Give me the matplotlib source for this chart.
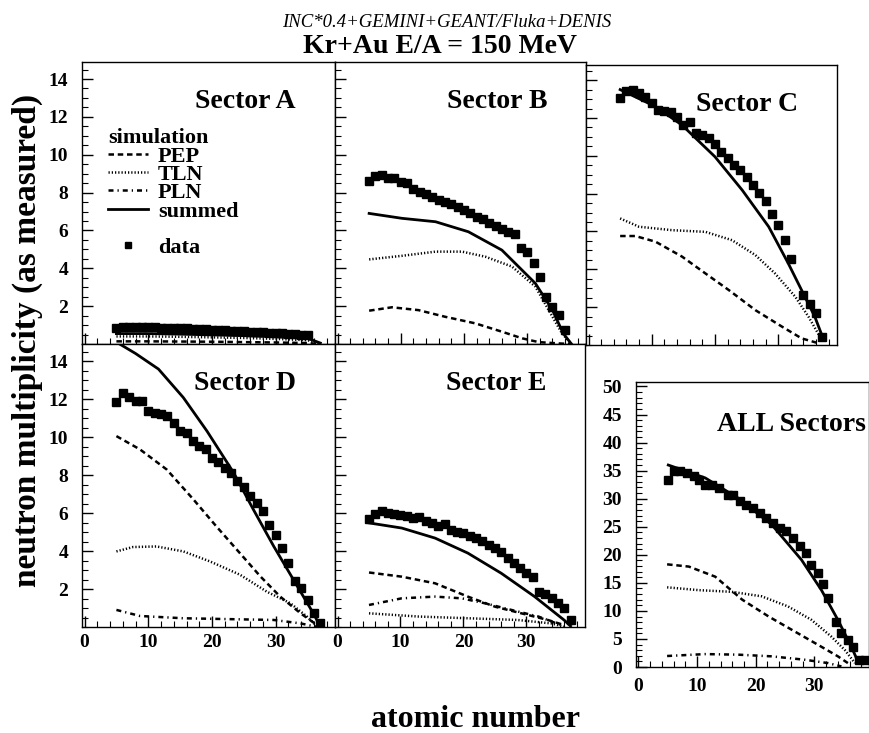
import numpy as np
import matplotlib.pyplot as plt
from matplotlib.ticker import MultipleLocator
from matplotlib.lines import Line2D

plt.rcParams['font.family'] = ['Liberation Serif', 'DejaVu Serif']
plt.rcParams['font.weight'] = 'bold'

# ---- data (atomic number Z, neutron multiplicity) ----
# Sector A
z_data_A = list(range(5, 36))
data_A = [0.85, 0.9, 0.92, 0.92, 0.9, 0.9, 0.88, 0.87, 0.85, 0.85, 0.83, 0.82, 0.8, 0.78,
          0.77, 0.75, 0.73, 0.72, 0.7, 0.68, 0.67, 0.65, 0.63, 0.62, 0.6, 0.58, 0.56, 0.54,
          0.52, 0.5, 0.45]
z_sum_A = [5, 10, 15, 20, 25, 30, 35, 37]
sum_A = [0.55, 0.55, 0.52, 0.48, 0.44, 0.38, 0.3, 0.05]
z_tln_A = [5, 10, 15, 20, 25, 30, 35, 37]
tln_A = [0.4, 0.4, 0.38, 0.35, 0.32, 0.27, 0.2, 0.03]
z_pep_A = [5, 10, 15, 20, 25, 30, 35, 37]
pep_A = [0.14, 0.14, 0.13, 0.12, 0.1, 0.08, 0.05, 0.0]

# Sector B
z_data_B = list(range(5, 37))
data_B = [8.63, 8.88, 8.93, 8.79, 8.75, 8.58, 8.49, 8.17, 8.05, 7.92, 7.78, 7.61, 7.52, 7.40,
          7.25, 7.08, 6.90, 6.73, 6.58, 6.41, 6.23, 6.05, 5.93, 5.79, 5.05, 4.88, 4.26, 3.56,
          2.50, 1.97, 1.53, 0.74]
z_sum_B = [5, 10.2, 15.5, 20.7, 26, 31.3, 34, 35.7, 37]
sum_B = [6.90, 6.64, 6.46, 5.93, 4.96, 3.20, 1.79, 0.56, 0.0]
z_tln_B = [5, 10.2, 15.5, 19.7, 23.4, 27.6, 31.3, 33.4, 35.5, 37]
tln_B = [4.47, 4.66, 4.88, 4.88, 4.61, 4.09, 3.03, 1.79, 0.56, 0.0]
z_pep_B = [5, 8.6, 12.8, 17, 21.8, 26, 29.2, 31.8, 35, 37]
pep_B = [1.76, 1.94, 1.79, 1.44, 1.09, 0.65, 0.30, 0.1, 0.03, 0.0]

# Sector C
z_data_C = list(range(5, 33)) + [34, 35, 36, 37]
data_C = [13.03, 13.4, 13.5, 13.3, 13.12, 12.8, 12.41, 12.38, 12.33, 12.06, 11.62, 11.8, 11.2,
          11.09, 10.92, 10.6, 10.21, 9.86, 9.51, 9.24, 8.89, 8.45, 8.04, 7.62, 6.92, 6.34,
          5.55, 4.52, 2.64, 2.17, 1.68, 0.44]
z_sum_C = [5, 10.6, 14.8, 20, 24.3, 28.5, 31.6, 33.7, 35.8, 37.2]
sum_C = [13.5, 12.6, 11.62, 9.95, 8.19, 6.25, 4.31, 2.90, 1.49, 0.26]
z_tln_C = [5, 8, 13.2, 18.5, 22.7, 26.4, 29.5, 32.7, 34.8, 36.9]
tln_C = [6.69, 6.25, 6.07, 5.98, 5.54, 4.75, 3.78, 2.55, 1.49, 0.26]
z_pep_C = [5, 7.4, 10.6, 14.8, 18.5, 22.2, 26.4, 30.6, 33.7, 36.4]
pep_C = [5.76, 5.76, 5.46, 4.67, 3.78, 2.90, 1.84, 0.97, 0.35, 0.09]

# Sector D
z_data_D = list(range(5, 38))
data_D = [11.82, 12.31, 12.13, 11.9, 11.9, 11.38, 11.25, 11.2, 11.11, 10.72, 10.32, 10.23,
          9.79, 9.52, 9.38, 8.91, 8.68, 8.38, 8.12, 7.68, 7.38, 6.88, 6.53, 6.09, 5.39, 4.86,
          4.15, 3.37, 2.4, 2.04, 1.43, 0.72, 0.19]
z_sum_D = [5, 8, 11.6, 15.5, 19.2, 23.4, 26.5, 29.7, 32.8, 35.9, 37]
sum_D = [15.0, 14.4, 13.58, 12.08, 10.32, 8.12, 6.18, 4.24, 2.48, 0.72, 0.02]
z_tln_D = [5, 7.6, 11.3, 15.5, 19.7, 24.4, 28.6, 32.3, 34.9, 36.5]
tln_D = [3.98, 4.21, 4.24, 3.98, 3.45, 2.75, 1.86, 1.25, 0.55, 0.02]
z_pep_D = [5, 8.7, 12.9, 17.1, 20.7, 24.4, 27.6, 30.7, 33.9, 36.5]
pep_D = [10.05, 9.35, 8.29, 6.71, 5.29, 3.88, 2.66, 1.60, 0.72, 0.1]
z_pln_D = [5, 8.7, 15.5, 23.4, 29.7, 33.9, 36.5]
pln_D = [0.9, 0.58, 0.46, 0.41, 0.37, 0.19, 0.0]

# Sector E
z_data_E = list(range(5, 38))
data_E = [5.69, 5.97, 6.1, 6.0, 5.97, 5.92, 5.83, 5.74, 5.79, 5.57, 5.48, 5.33, 5.44, 5.13,
          4.98, 4.95, 4.77, 4.68, 4.51, 4.33, 4.16, 3.93, 3.63, 3.36, 3.1, 2.83, 2.65, 1.86,
          1.74, 1.51, 1.25, 0.98, 0.36]
z_sum_E = [5, 10.2, 15.5, 20.7, 26, 31.3, 36, 37]
sum_E = [5.48, 5.21, 4.68, 3.89, 2.83, 1.6, 0.36, 0.05]
z_tln_E = [5, 12.9, 20.7, 28.6, 33.9, 36]
tln_E = [0.72, 0.55, 0.46, 0.37, 0.19, 0.02]
z_pep_E = [5, 10.2, 15.5, 20.7, 25, 29.2, 33.4, 36]
pep_E = [2.87, 2.65, 2.30, 1.60, 1.07, 0.72, 0.37, 0.1]
z_pln_E = [5, 10.2, 15.5, 19.7, 23.4, 27.6, 31.9, 35.5]
pln_E = [1.16, 1.51, 1.6, 1.51, 1.25, 0.9, 0.55, 0.1]

# ALL sectors
z_data_ALL = [5.1, 6, 7.1, 8.3, 9.4, 10.3, 11.4, 12.5, 13.7, 15.3, 16.2, 17.3, 18.4, 19.6, 20.7,
              21.8, 23, 24.1, 25.2, 26.4, 27.5, 28.6, 29.5, 30.6, 31.5, 32.3, 33.7, 34.6, 35.7,
              36.5, 37.6, 38.7]
data_ALL = [33.4, 34.9, 34.9, 34.6, 34.0, 33.4, 32.5, 32.5, 31.9, 30.7, 30.7, 29.5, 28.9, 28.3,
            27.4, 26.5, 25.7, 24.8, 24.2, 23.0, 21.5, 20.3, 18.2, 16.7, 14.8, 12.3, 8.1, 6.0,
            4.8, 3.6, 1.3, 1.3]
z_sum_ALL = [5.1, 11.4, 17, 22.7, 27.8, 31.2, 34, 36.3, 37.4]
sum_ALL = [36.0, 33.7, 30.1, 25.4, 19.1, 13.7, 8.4, 3.6, 1.0]
z_tln_ALL = [4.9, 10.3, 15.9, 21, 25.5, 29.5, 32.9, 35.2, 36.9]
tln_ALL = [14.2, 13.7, 13.4, 12.6, 10.8, 8.4, 5.4, 3.0, 0.7]
z_pep_ALL = [4.9, 8.6, 13.1, 17.7, 22.2, 26.7, 31.2, 34, 35.7]
pep_ALL = [18.3, 17.9, 16.1, 12.0, 9.0, 6.3, 3.6, 1.9, 0.7]
z_pln_ALL = [4.9, 11.4, 17, 22.7, 28.3, 32.3, 34.6]
pln_ALL = [1.96, 2.3, 2.2, 1.9, 1.3, 0.7, 0.1]

styles = {
    'PEP': dict(color='k', lw=1.8, ls=(0, (2.2, 1.5))),
    'TLN': dict(color='k', lw=1.8, ls=(0, (0.5, 0.8))),
    'PLN': dict(color='k', lw=1.8, ls=(0, (2.0, 1.6, 0.5, 1.6))),
    'summed': dict(color='k', lw=2.0, ls='-'),
}

W, H = 870, 733
fig = plt.figure(figsize=(W / 100, H / 100), dpi=100)


def px_axes(x0, y0, x1, y1):
    return fig.add_axes([x0 / W, 1 - y1 / H, (x1 - x0) / W, (y1 - y0) / H])


def panel(ax, name, zd, vd, curves, ymax, ylab, xlab, tx=0.845, ty=0.86):
    for key, z, v in curves:
        ax.plot(z, v, **styles[key])
    ax.plot(zd, vd, ls='none', marker='s', ms=6, color='k')
    ax.set_xlim(-0.4, 39.3)
    ax.set_ylim(0, ymax)
    ax.xaxis.set_major_locator(MultipleLocator(10))
    ax.xaxis.set_minor_locator(MultipleLocator(2))
    ax.tick_params(which='both', direction='in', top=False, right=False, labelsize=14)
    ax.tick_params(which='major', length=8, width=1)
    ax.tick_params(which='minor', length=4, width=0.8)
    ax.tick_params(axis='y', pad=10)
    ax.tick_params(axis='x', pad=5)
    ax.tick_params(labelleft=ylab, labelbottom=xlab)
    for s in ax.spines.values():
        s.set_linewidth(1.0)
    ax.text(tx, ty, name, transform=ax.transAxes, ha='right', va='center',
            fontsize=20, fontweight='bold')


def set_sector_y(ax):
    ax.set_yticks([2, 4, 6, 8, 10, 12, 14])
    ax.yaxis.set_minor_locator(MultipleLocator(0.5))


axA = px_axes(82, 62, 335, 344)
panel(axA, 'Sector A', z_data_A, data_A,
      [('PEP', z_pep_A, pep_A), ('TLN', z_tln_A, tln_A), ('summed', z_sum_A, sum_A)],
      14.9, True, False)
axB = px_axes(335, 62, 586, 344)
panel(axB, 'Sector B', z_data_B, data_B,
      [('PEP', z_pep_B, pep_B), ('TLN', z_tln_B, tln_B), ('summed', z_sum_B, sum_B)],
      14.9, False, False)
axC = px_axes(586, 65, 837, 345)
panel(axC, 'Sector C', z_data_C, data_C,
      [('PEP', z_pep_C, pep_C), ('TLN', z_tln_C, tln_C), ('summed', z_sum_C, sum_C)],
      14.8, False, False)
axD = px_axes(82, 344, 335, 627)
panel(axD, 'Sector D', z_data_D, data_D,
      [('PEP', z_pep_D, pep_D), ('TLN', z_tln_D, tln_D), ('PLN', z_pln_D, pln_D),
       ('summed', z_sum_D, sum_D)],
      14.9, True, True)
axE = px_axes(335, 344, 585, 627)
panel(axE, 'Sector E', z_data_E, data_E,
      [('PEP', z_pep_E, pep_E), ('TLN', z_tln_E, tln_E), ('PLN', z_pln_E, pln_E),
       ('summed', z_sum_E, sum_E)],
      14.9, False, True)
for ax in (axA, axB, axC, axD, axE):
    set_sector_y(ax)

axALL = px_axes(636, 382, 869, 667)
panel(axALL, 'ALL Sectors', z_data_ALL, data_ALL,
      [('PEP', z_pep_ALL, pep_ALL), ('TLN', z_tln_ALL, tln_ALL), ('PLN', z_pln_ALL, pln_ALL),
       ('summed', z_sum_ALL, sum_ALL)],
      50.8, True, True, tx=0.985, ty=0.85)
axALL.set_yticks(np.arange(0, 51, 5))
axALL.yaxis.set_minor_locator(MultipleLocator(1))
axALL.tick_params(axis='x', pad=8)

# legend in sector A
handles = [Line2D([], [], **styles['PEP']), Line2D([], [], **styles['TLN']),
           Line2D([], [], **styles['PLN']), Line2D([], [], **styles['summed']),
           Line2D([], [], ls='none'),
           Line2D([], [], ls='none', marker='s', ms=4.5, color='k')]
labels = ['PEP', 'TLN', 'PLN', 'summed', ' ', 'data']
leg = axA.legend(handles, labels, title='simulation', loc='upper left',
                 bbox_to_anchor=(0.103, 0.765), frameon=False, fontsize=16,
                 title_fontsize=16, handlelength=1.8, handletextpad=0.45,
                 labelspacing=-0.1, borderaxespad=0.0, borderpad=0.0, alignment='left')
leg.get_title().set_fontweight('bold')

fig.text(0.513, 0.969, 'INC*0.4+GEMINI+GEANT/Fluka+DENIS', ha='center', va='center',
         fontsize=13.5, style='italic', fontweight='normal')
fig.text(0.506, 0.937, 'Kr+Au E/A = 150 MeV', ha='center', va='center', fontsize=20,
         fontweight='bold')
fig.text(0.032, 0.536, 'neutron multiplicity (as measured)', rotation=90, ha='center',
         va='center', fontsize=24, fontweight='bold')
fig.text(0.546, 0.018, 'atomic number', ha='center', va='center', fontsize=23,
         fontweight='bold')

fig.savefig('out.png', dpi=100)
